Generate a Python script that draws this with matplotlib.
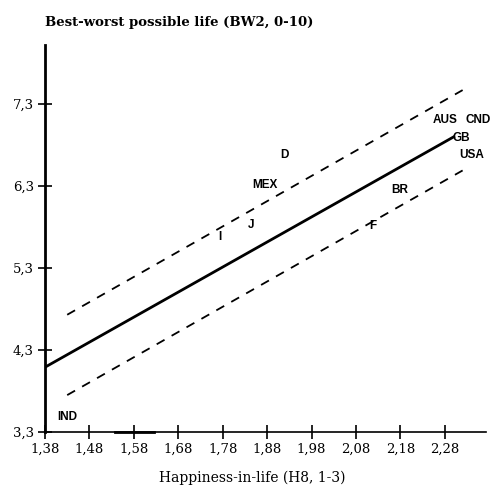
import matplotlib
matplotlib.use('Agg')
import matplotlib.pyplot as plt

# country positions (happiness H8, best-worst BW2)
countries = ['IND', 'I', 'J', 'MEX', 'D', 'F', 'BR', 'AUS', 'CND', 'GB', 'USA']
happiness = [1.43, 1.774, 1.844, 1.875, 1.92, 2.118, 2.179, 2.28, 2.354, 2.318, 2.34]
bestworst = [3.48, 5.68, 5.82, 6.31, 6.68, 5.81, 6.25, 7.10, 7.10, 6.89, 6.68]

# regression line and band endpoints
fit_x = [1.38, 2.30]
fit_y = [4.09, 6.90]
band_x = [1.43, 2.32]
band_hi = [4.73, 7.47]
band_lo = [3.75, 6.49]

xticks = [1.38, 1.48, 1.58, 1.68, 1.78, 1.88, 1.98, 2.08, 2.18, 2.28]
yticks = [3.3, 4.3, 5.3, 6.3, 7.3]

fig = plt.figure(figsize=(5.02, 5.0), dpi=100)
ax = fig.add_axes([0.0896, 0.136, 0.878, 0.774])

ax.plot(fit_x, fit_y, color='black', lw=2)
ax.plot(band_x, band_hi, color='black', lw=1.3, ls=(0, (5, 4.5)))
ax.plot(band_x, band_lo, color='black', lw=1.3, ls=(0, (5, 4.5)))
ax.plot([1.537, 1.625], [3.3, 3.3], color='black', lw=2, clip_on=False)

for name, x, y in zip(countries, happiness, bestworst):
    ax.text(x, y, name, ha='center', va='center', fontsize=8.5, fontweight='bold',
            family='Liberation Sans')

ax.set_xlim(1.38, 2.372)
ax.set_ylim(3.3, 8.02)
ax.set_xticks(xticks)
ax.set_yticks(yticks)
ax.set_xticklabels([f'{v:.2f}'.replace('.', ',') for v in xticks], family='DejaVu Serif', fontsize=9.5)
ax.set_yticklabels([f'{v:.1f}'.replace('.', ',') for v in yticks], family='DejaVu Serif', fontsize=9.5)
ax.tick_params(direction='inout', length=10, width=1.2, pad=3)

for s in ['top', 'right']:
    ax.spines[s].set_visible(False)
ax.spines['left'].set_linewidth(2)
ax.spines['bottom'].set_linewidth(1.2)

fig.text(0.09, 0.955, 'Best-worst possible life (BW2, 0-10)', family='DejaVu Serif',
         fontsize=9.5, fontweight='bold', va='center')
ax.set_xlabel('Happiness-in-life (H8, 1-3)', family='DejaVu Serif', fontsize=10, labelpad=8)
ax.xaxis.set_label_coords(0.47, -0.1)

fig.savefig('out.png', dpi=100)
